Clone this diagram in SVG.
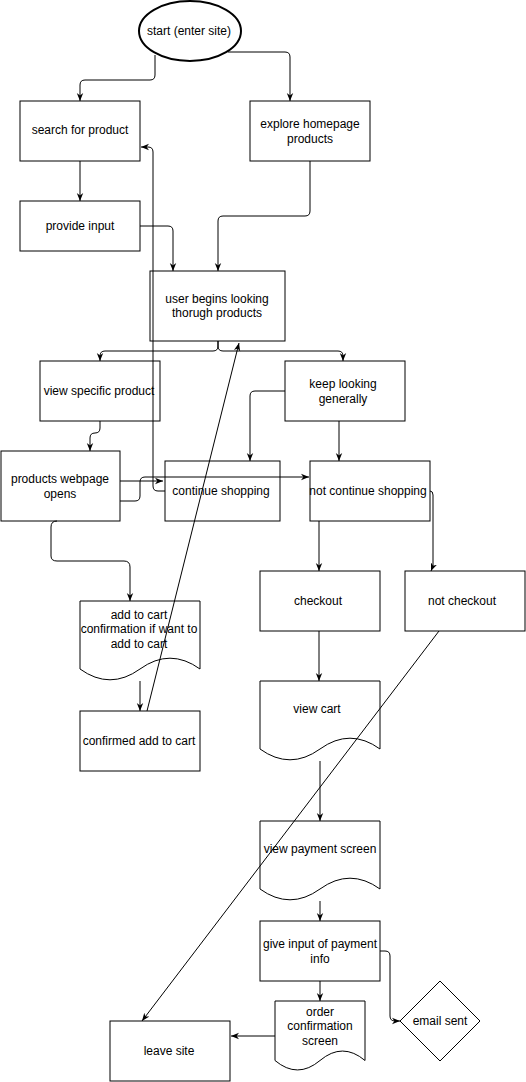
<svg xmlns="http://www.w3.org/2000/svg" width="526" height="1082" viewBox="0 0 526 1082">
<defs>
<style>
.n{fill:#fff;stroke:#000;stroke-width:1}
.t{font-family:"Liberation Sans",Arial,sans-serif;font-size:12px;fill:#000;text-anchor:middle}
.c{fill:none;stroke:#000;stroke-width:1}
.a{marker-end:url(#ar)}
</style>
<marker id="ar" viewBox="0 0 10 10" refX="10" refY="5" markerWidth="8" markerHeight="8" markerUnits="userSpaceOnUse" orient="auto">
<path d="M0,1 L10,5 L0,9 L3,5 z" fill="#000"/>
</marker>
</defs>
<rect width="526" height="1082" fill="#fff"/>
<g id="start"><ellipse class="n" cx="190" cy="31" rx="51" ry="30" style="stroke-width:2"/><text class="t" x="189" y="35">start (enter site)</text></g>
<g id="search"><rect class="n" x="20" y="101" width="120" height="60"/><text class="t" x="80" y="134">search for product</text></g>
<g id="explore"><rect class="n" x="250" y="101" width="120" height="60"/><text class="t" x="310" y="128">explore homepage</text><text class="t" x="310" y="143">products</text></g>
<g id="provide"><rect class="n" x="20" y="201" width="120" height="50"/><text class="t" x="80" y="230">provide input</text></g>
<g id="user"><rect class="n" x="150" y="271" width="135" height="70"/><text class="t" x="217" y="303">user begins looking</text><text class="t" x="217" y="317">thorugh products</text></g>
<g id="viewspecific"><rect class="n" x="40" y="361" width="120" height="60"/><text class="t" x="99" y="395">view specific product</text></g>
<g id="keep"><rect class="n" x="285" y="361" width="120" height="60"/><text class="t" x="343" y="388">keep looking</text><text class="t" x="343" y="403">generally</text></g>
<g id="products"><rect class="n" x="1" y="451" width="119" height="70"/><text class="t" x="60" y="483">products webpage</text><text class="t" x="60" y="498">opens</text></g>
<g id="continue"><rect class="n" x="165" y="461" width="115" height="60"/><text class="t" x="221" y="495">continue shopping</text></g>
<g id="notcontinue"><rect class="n" x="310" y="461" width="120" height="60"/><text class="t" x="368" y="495">not continue shopping</text></g>
<g id="checkout"><rect class="n" x="260" y="571" width="120" height="60"/><text class="t" x="318" y="605">checkout</text></g>
<g id="notcheckout"><rect class="n" x="405" y="571" width="120" height="60"/><text class="t" x="462" y="605">not checkout</text></g>
<g id="addtocart"><path class="n" d="M80,601 L200,601 L200,669 Q170,647.4 140,669 Q110,690.6 80,669 Z"/><text class="t" x="139" y="619">add to cart</text><text class="t" x="139" y="633">confirmation if want to</text><text class="t" x="139" y="648">add to cart</text></g>
<g id="confirmed"><rect class="n" x="80" y="711" width="120" height="60"/><text class="t" x="139" y="745">confirmed add to cart</text></g>
<g id="viewcart"><path class="n" d="M260,681 L380,681 L380,749 Q350,727.4 320,749 Q290,770.6 260,749 Z"/><text class="t" x="317" y="713">view cart</text></g>
<g id="payment"><path class="n" d="M260,821 L380,821 L380,889 Q350,867.4 320,889 Q290,910.6 260,889 Z"/><text class="t" x="320" y="853">view payment screen</text></g>
<g id="giveinput"><rect class="n" x="260" y="921" width="120" height="60"/><text class="t" x="320" y="948">give input of payment</text><text class="t" x="320" y="963">info</text></g>
<g id="order"><path class="n" d="M275,1001 L365,1001 L365,1060.5 Q342.5,1041.6 320,1060.5 Q297.5,1079.4 275,1060.5 Z"/><text class="t" x="320" y="1016">order</text><text class="t" x="320" y="1030">confirmation</text><text class="t" x="320" y="1045">screen</text></g>
<g id="leave"><rect class="n" x="110" y="1021" width="120" height="60"/><text class="t" x="169" y="1055">leave site</text></g>
<g id="email"><path class="n" d="M440,981 L480,1021 L440,1061 L400,1021 Z"/><text class="t" x="440" y="1025">email sent</text></g>
<g id="connectors">
<path class="c a" d="M155,55 L155,75 Q155,80 150,80 L85,80 Q80,80 80,85 L80,101"/>
<path class="c a" d="M228,52 L285,52 Q290,52 290,57 L290,101"/>
<path class="c a" d="M80,161 L80,201"/>
<path class="c a" d="M140,226 L168,226 Q173,226 173,231 L173,271"/>
<path class="c a" d="M310,161 L310,211 Q310,216 305,216 L223,216 Q218,216 218,221 L218,271"/>
<path class="c a" d="M165,491 L158,491 Q153,491 153,486 L153,152 Q153,147 148,147 L141,147"/>
<path class="c a" d="M218,341 L218,346 Q218,351 213,351 L105,351 Q100,351 100,356 L100,361"/>
<path class="c a" d="M218,341 L218,346 Q218,351 223,351 L338,351 Q343,351 343,356 L343,361"/>
<path class="c a" d="M100,421 L100,428 Q100,433 95,433 Q90,433 90,438 L90,451"/>
<path class="c a" d="M120,481 L163,481"/>
<path class="c a" d="M120,501 L135,501 Q140,501 140,496 L140,482 Q140,477 145,477 L309,477"/>
<path class="c a" d="M285,391 L255,391 Q250,391 250,396 L250,461"/>
<path class="c a" d="M339,421 L339,461"/>
<path class="c a" d="M319,521 L319,571"/>
<path class="c a" d="M430,491 Q433,491 433,495 L433,566 L431,571"/>
<path class="c a" d="M319,631 L319,681"/>
<path class="c a" d="M320,761 L320,821"/>
<path class="c a" d="M320,901 L320,921"/>
<path class="c a" d="M320,981 L320,1001"/>
<path class="c a" d="M275,1036 L231,1036"/>
<path class="c a" d="M380,951 L385,951 Q390,951 390,956 L390,1016 Q390,1021 395,1021 L400,1021"/>
<path class="c a" d="M57,521 Q51,521 51,527 L51,556 Q51,561 57,561 L124,561 Q130,561 130,567 L130,601"/>
<path class="c a" d="M140,681 L140,711"/>
<path class="c a" d="M147,711 L239,343"/>
<path class="c a" d="M439,631 L142,1021"/>
</g>
</svg>
